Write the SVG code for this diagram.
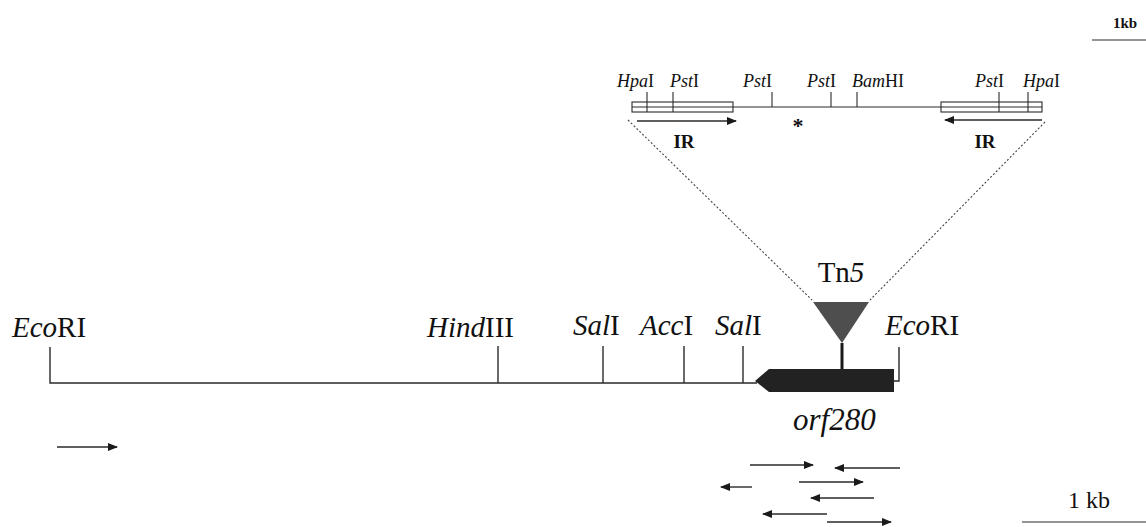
<svg xmlns="http://www.w3.org/2000/svg" width="1146" height="527" viewBox="0 0 1146 527">
  <defs>
    <style>
      .bg { fill: #ffffff; }
      .ln { stroke: #2a2a2a; stroke-width: 1.4; fill: none; }
      .thin { stroke: #2a2a2a; stroke-width: 1.1; fill: none; }
      .dot { stroke: #444; stroke-width: 1.1; stroke-dasharray: 2 2; fill: none; }
      .big { font-family: "Liberation Serif", "Times New Roman", serif; font-size: 29px; fill: #111; }
      .sm { font-family: "Liberation Serif", "Times New Roman", serif; font-size: 18px; fill: #111; }
      .it { font-style: italic; }
      .arr { stroke: #2a2a2a; stroke-width: 1.4; fill: none; marker-end: url(#head); }
    </style>
    <marker id="head" viewBox="0 0 10 8" refX="9" refY="4" markerWidth="10" markerHeight="8" markerUnits="userSpaceOnUse" orient="auto">
      <path d="M0,0 L10,4 L0,8 Z" fill="#1a1a1a"/>
    </marker>
  </defs>

  <rect class="bg" x="0" y="0" width="1146" height="527"/>

  <!-- scale bars -->
  <g id="scale-top">
    <text class="sm" x="1113" y="28" style="font-size:15px;font-weight:bold">1kb</text>
    <line class="thin" x1="1092" y1="40" x2="1146" y2="40"/>
  </g>
  <g id="scale-bottom">
    <text class="big" x="1068" y="508" style="font-size:24px">1 kb</text>
    <line class="thin" x1="1022" y1="522" x2="1146" y2="522"/>
  </g>

  <!-- Tn5 insert detail -->
  <g id="tn5-map">
    <line class="thin" x1="632" y1="107" x2="1042" y2="107"/>
    <rect class="thin" x="632" y="102" width="101" height="10"/>
    <rect class="thin" x="941" y="102" width="101" height="10"/>
    <g class="thin">
      <line x1="647" y1="92" x2="647" y2="112"/>
      <line x1="673" y1="92" x2="673" y2="112"/>
      <line x1="772" y1="92" x2="772" y2="107"/>
      <line x1="831" y1="92" x2="831" y2="107"/>
      <line x1="857" y1="92" x2="857" y2="107"/>
      <line x1="999" y1="92" x2="999" y2="112"/>
      <line x1="1028" y1="92" x2="1028" y2="112"/>
    </g>
    <text class="sm" x="617" y="87"><tspan class="it">Hpa</tspan>I</text>
    <text class="sm" x="670" y="87"><tspan class="it">Pst</tspan>I</text>
    <text class="sm" x="743" y="87"><tspan class="it">Pst</tspan>I</text>
    <text class="sm" x="807" y="87"><tspan class="it">Pst</tspan>I</text>
    <text class="sm" x="852" y="87"><tspan class="it">Bam</tspan>HI</text>
    <text class="sm" x="975" y="87"><tspan class="it">Pst</tspan>I</text>
    <text class="sm" x="1023" y="87"><tspan class="it">Hpa</tspan>I</text>
    <text class="sm" x="798" y="133" text-anchor="middle" style="font-size:22px;font-weight:bold">*</text>
    <text class="sm" x="684" y="148" text-anchor="middle" style="font-size:19px;font-weight:bold">IR</text>
    <text class="sm" x="985" y="148" text-anchor="middle" style="font-size:19px;font-weight:bold">IR</text>
  </g>

  <!-- Tn5 insertion -->
  <g id="tn5">
    <polygon points="813,302 869,302 842,343" fill="#4e4e4e"/>
    <line x1="842" y1="343" x2="842" y2="369" stroke="#1a1a1a" stroke-width="3"/>
    <text class="big" x="841" y="282" text-anchor="middle">Tn<tspan class="it">5</tspan></text>
  </g>

  <!-- restriction map -->
  <g id="restriction-map">
    <polyline class="ln" points="50,347 50,383 757,383"/>
    <line class="ln" x1="498" y1="346" x2="498" y2="383"/>
    <line class="ln" x1="603" y1="346" x2="603" y2="383"/>
    <line class="ln" x1="684" y1="346" x2="684" y2="383"/>
    <line class="ln" x1="743" y1="346" x2="743" y2="383"/>
    <polyline class="ln" points="893,381 899,381 899,347"/>
    <text class="big" x="12" y="337"><tspan class="it">Eco</tspan>RI</text>
    <text class="big" x="427" y="337"><tspan class="it">Hind</tspan>III</text>
    <text class="big" x="573" y="335"><tspan class="it">Sal</tspan>I</text>
    <text class="big" x="640" y="335"><tspan class="it">Acc</tspan>I</text>
    <text class="big" x="715" y="335"><tspan class="it">Sal</tspan>I</text>
    <text class="big" x="885" y="335"><tspan class="it">Eco</tspan>RI</text>
  </g>

  <!-- orf280 -->
  <g id="orf280">
    <polygon points="755,381 769,369 894,369 894,392 769,392" fill="#222"/>
    <text class="big it" x="793" y="430" style="font-size:31px">orf280</text>
  </g>

  <!-- connectors: projection lines and sequencing reads -->
  <g id="connectors">
    <line class="dot" x1="628" y1="120" x2="812" y2="300"/>
    <line class="dot" x1="1045" y1="122" x2="870" y2="300"/>
    <line class="arr" x1="637" y1="121" x2="736" y2="121"/>
    <line class="arr" x1="1042" y1="120" x2="945" y2="120"/>
    <line class="arr" x1="57" y1="447" x2="117" y2="447"/>
    <line class="arr" x1="750" y1="465" x2="813" y2="465"/>
    <line class="arr" x1="900" y1="468" x2="835" y2="468"/>
    <line class="arr" x1="752" y1="487" x2="721" y2="487"/>
    <line class="arr" x1="799" y1="482" x2="863" y2="482"/>
    <line class="arr" x1="874" y1="498" x2="811" y2="498"/>
    <line class="arr" x1="827" y1="514" x2="763" y2="514"/>
    <line class="arr" x1="827" y1="522" x2="891" y2="522"/>
  </g>
</svg>
